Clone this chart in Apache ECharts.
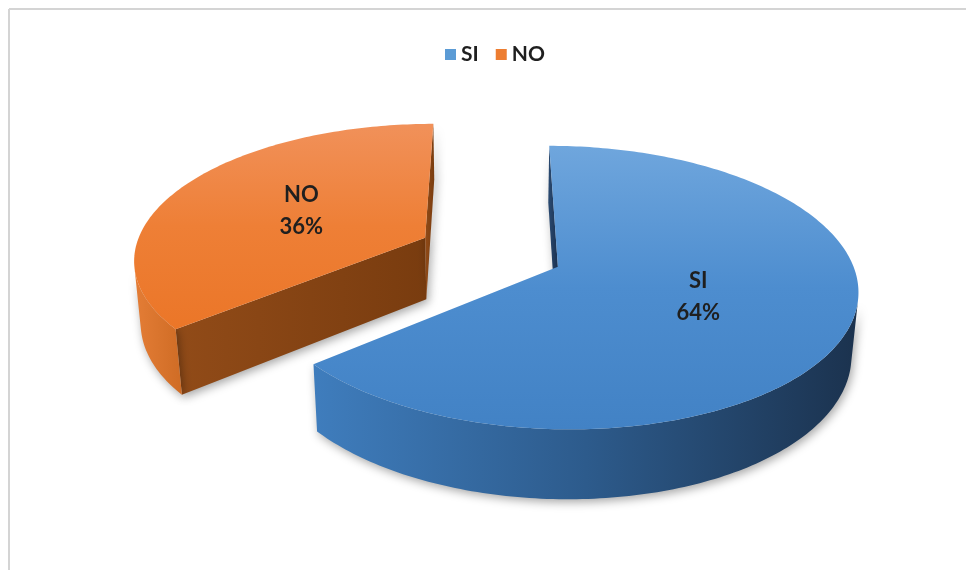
<!DOCTYPE html>
<html>
<head>
<meta charset="utf-8">
<script src="https://cdn.jsdelivr.net/npm/echarts@6/dist/echarts.min.js"></script>
<style>
  html, body { margin: 0; padding: 0; background: #ffffff; }
  #chart { width: 966px; height: 570px; }
</style>
</head>
<body>
<div id="chart"></div>
<script>
// Answers and their shares (percent)
const categories = ['SI', 'NO'];
const values = [64, 36];

// Base colours and the shades used for the 3D faces
const colors = ['#5b9bd5', '#ed7d31'];
const shades = [
  { top: ['#6fa6dd', '#4d8dcf', '#4282c5'], wall: ['#3f7dbd', '#2d5b8c', '#1b324e'], face: ['#2b4b72', '#1b3150'] },
  { top: ['#f1915a', '#ee7f36', '#eb7628'], wall: ['#e47d36', '#cf6c25'], face: ['#914b18', '#793c0f'] }
];

// View of the tilted, extruded pie
const VIEW = {
  cx: 490.5, cy: 252,     // projected pie centre
  R: 291,                 // radius in px at centre depth
  D: 6.1,                 // camera distance, in radii
  tilt: 27.5 * Math.PI / 180,
  T: 0.245,               // thickness, in radii
  explode: 0.252          // offset of each slice, in radii
};

const sinT = Math.sin(VIEW.tilt), cosT = Math.cos(VIEW.tilt);

// u: right, v: towards the back, h: up (all in radii)
function project(u, v, h) {
  const Y = v * sinT + h * cosT;
  const Z = v * cosT - h * sinT;
  const k = VIEW.D / (VIEW.D + Z);
  return [VIEW.cx + VIEW.R * u * k, VIEW.cy - VIEW.R * Y * k];
}

const camV = -VIEW.D * cosT;
const total = values.reduce((a, b) => a + b, 0);

function renderSlice(params, api) {
  const i = params.seriesIndex;
  let start = 0;
  for (let j = 0; j < i; j++) start += values[j] / total * 2 * Math.PI;
  const end = start + values[i] / total * 2 * Math.PI;
  const mid = (start + end) / 2;
  const ox = VIEW.explode * Math.sin(mid);
  const oy = VIEW.explode * Math.cos(mid);
  const T = VIEW.T;
  const sh = shades[i];

  const rim = (t, h) => project(ox + Math.sin(t), oy + Math.cos(t), h);
  const apex = h => project(ox, oy, h);
  const facing = (nx, ny, px, py) => nx * (0 - px) + ny * (camV - py) > 0;

  const children = [];
  const wallStyle = fill => ({
    fill: fill,
    shadowBlur: 10,
    shadowColor: 'rgba(0,0,0,0.35)',
    shadowOffsetX: 2,
    shadowOffsetY: 3
  });

  // Radial faces
  const radial = [
    { t: start, n: [-Math.cos(start), Math.sin(start)] },
    { t: end, n: [Math.cos(end), -Math.sin(end)] }
  ];
  radial.forEach(f => {
    const px = ox + 0.5 * Math.sin(f.t), py = oy + 0.5 * Math.cos(f.t);
    if (!facing(f.n[0], f.n[1], px, py)) return;
    const pts = [apex(0), rim(f.t, 0), rim(f.t, -T), apex(-T)];
    const xs = pts.map(p => p[0]);
    children.push({
      type: 'polygon',
      shape: { points: pts },
      style: wallStyle(new echarts.graphic.LinearGradient(
        Math.min(...xs), 0, Math.max(...xs) + 0.01, 0,
        [{ offset: 0, color: sh.face[0] }, { offset: 1, color: sh.face[1] }], true))
    });
  });

  // Outer curved wall, split into runs that face the viewer
  const steps = Math.max(8, Math.ceil((end - start) / (Math.PI / 180)));
  const runs = [];
  let cur = null;
  for (let k = 0; k < steps; k++) {
    const t0 = start + (end - start) * k / steps;
    const t1 = start + (end - start) * (k + 1) / steps;
    const tm = (t0 + t1) / 2;
    const vis = facing(Math.sin(tm), Math.cos(tm), ox + Math.sin(tm), oy + Math.cos(tm));
    if (vis) {
      if (!cur) { cur = [t0, t1]; runs.push(cur); } else cur[1] = t1;
    } else cur = null;
  }
  runs.forEach(r => {
    const n = Math.max(2, Math.ceil((r[1] - r[0]) / (Math.PI / 180)));
    const topPts = [], botPts = [];
    for (let k = 0; k <= n; k++) {
      const t = r[0] + (r[1] - r[0]) * k / n;
      topPts.push(rim(t, 0));
      botPts.push(rim(t, -T));
    }
    const pts = topPts.concat(botPts.reverse());
    const xs = pts.map(p => p[0]);
    const stops = sh.wall.map((c, idx) => ({ offset: idx / (sh.wall.length - 1), color: c }));
    children.push({
      type: 'polygon',
      shape: { points: pts },
      style: wallStyle(new echarts.graphic.LinearGradient(
        Math.min(...xs), 0, Math.max(...xs) + 0.01, 0, stops, true))
    });
  });

  // Top face
  const topPts = [apex(0)];
  const nTop = Math.ceil((end - start) / (Math.PI / 180));
  for (let k = 0; k <= nTop; k++) topPts.push(rim(start + (end - start) * k / nTop, 0));
  children.push({
    type: 'polygon',
    shape: { points: topPts },
    style: {
      fill: new echarts.graphic.LinearGradient(0, 0, 0, 1, [
        { offset: 0, color: sh.top[0] },
        { offset: 0.5, color: sh.top[1] },
        { offset: 1, color: sh.top[2] }
      ])
    }
  });

  // Data label on the top face
  const lp = project(ox + 0.5 * Math.sin(mid), oy + 0.5 * Math.cos(mid), 0);
  children.push({
    type: 'text',
    x: lp[0],
    y: lp[1],
    style: {
      text: categories[i] + '\n' + values[i] + '%',
      fill: '#1f1f1f',
      font: 'bold 22px Lato, "Open Sans", sans-serif',
      lineHeight: 32,
      align: 'center',
      verticalAlign: 'middle'
    }
  });

  return { type: 'group', children: children };
}

const chart = echarts.init(document.getElementById('chart'), null, { renderer: 'canvas' });

chart.setOption({
  animation: false,
  backgroundColor: '#ffffff',
  color: colors,
  legend: {
    data: categories,
    top: 39,
    left: 440,
    icon: 'rect',
    itemWidth: 11,
    itemHeight: 11,
    itemGap: 17,
    textStyle: {
      fontFamily: 'Lato, "Open Sans", sans-serif',
      fontWeight: 'bold',
      fontSize: 21,
      color: '#1f1f1f'
    }
  },
  graphic: [
    { type: 'line', silent: true, shape: { x1: 9, y1: 9, x2: 966, y2: 9 }, style: { stroke: '#d4d4d4', lineWidth: 2 } },
    { type: 'line', silent: true, shape: { x1: 9, y1: 9, x2: 9, y2: 570 }, style: { stroke: '#d4d4d4', lineWidth: 2 } }
  ],
  series: categories.map((name, i) => ({
    type: 'custom',
    name: name,
    coordinateSystem: 'none',
    itemStyle: { color: colors[i] },
    renderItem: renderSlice,
    data: [values[i]]
  }))
});
</script>
</body>
</html>
